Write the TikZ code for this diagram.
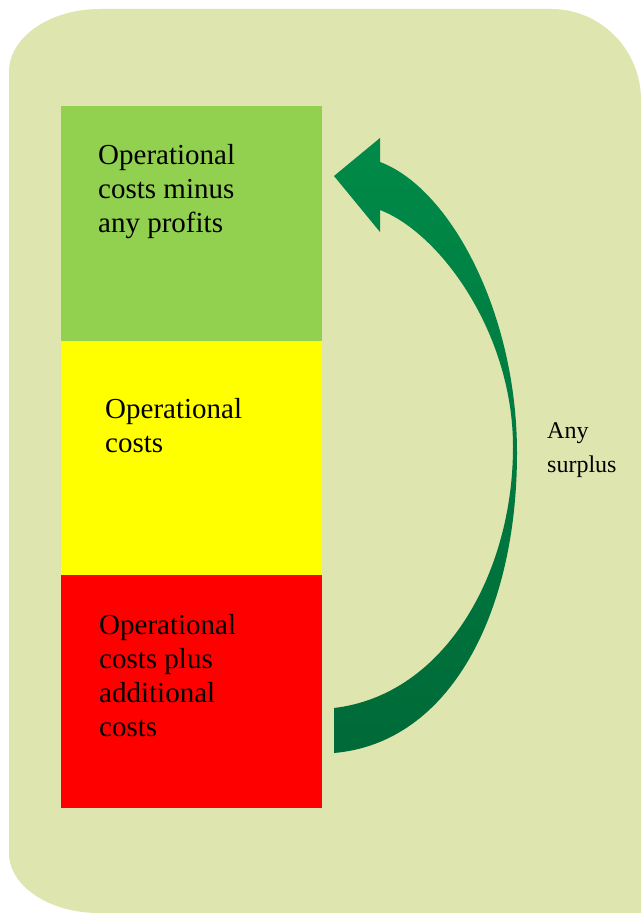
\documentclass[tikz,border=0pt]{standalone}
\usepackage{fontspec}
\setmainfont{Liberation Serif}
\usepackage{tikz}
\usetikzlibrary{positioning}

\definecolor{panel}{RGB}{223,229,174}
\definecolor{profitgreen}{RGB}{146,208,80}
\definecolor{costyellow}{RGB}{255,255,0}
\definecolor{extrared}{RGB}{255,0,0}
\definecolor{arrowtop}{RGB}{0,138,72}
\definecolor{arrowbottom}{RGB}{0,106,56}

\begin{document}
\begin{tikzpicture}[x=1pt, y=1pt,
		costbox/.style={minimum width=261pt, inner sep=0pt, outer sep=0pt},
		boxtext/.style={anchor=base west, align=left, inner sep=0pt, font=\fontsize{29}{34}\selectfont}]
		\useasboundingbox (0,0) rectangle (641,913);
		\fill[white] (0,0) rectangle (641,913);
		% rounded panel behind everything
		\fill[panel] (9,60) -- (9,841) arc[start angle=180, end angle=90, x radius=91, y radius=63]
			-- (551,904) arc[start angle=90, end angle=0, x radius=90, y radius=91]
			-- (641,0) -- (99,0) arc[start angle=270, end angle=180, x radius=90, y radius=60] -- cycle;
		% the three stacked blocks
		\node[costbox, fill=profitgreen, minimum height=235pt, anchor=north west] (profits) at (61,807) {};
		\node[costbox, fill=costyellow, minimum height=234pt, below=0pt of profits] (costs) {};
		\node[costbox, fill=extrared, minimum height=233pt, below=0pt of costs] (extra) {};
		% base anchor sits on the last line
		\node[boxtext] (profitstext) at ([shift={(37,-127)}]profits.north west) {Operational\\costs minus\\any profits};
		\node[boxtext] (coststext) at ([shift={(44,-112)}]costs.north west) {Operational\\costs};
		\node[boxtext] (extratext) at ([shift={(38,-162)}]extra.north west) {Operational\\costs plus\\additional\\costs};
		% curved arrow, tail at the bottom, head at the top
		\shade[top color=arrowtop, bottom color=arrowbottom] (334,160) -- (334,205)
			.. controls (445,218) and (513,340) .. (513,466)
			.. controls (513,580) and (440,680) .. (380,703)
			-- (380,681) -- (334,737) -- (380,775) -- (380,751)
			.. controls (450,725) and (517,600) .. (517,460)
			.. controls (517,300) and (450,170) .. (334,160)
			-- cycle;
		\node[anchor=base west, align=left, inner sep=0pt, font=\fontsize{24}{34}\selectfont] (surplus) at (547,440) {Any\\surplus};
\end{tikzpicture}
\end{document}
